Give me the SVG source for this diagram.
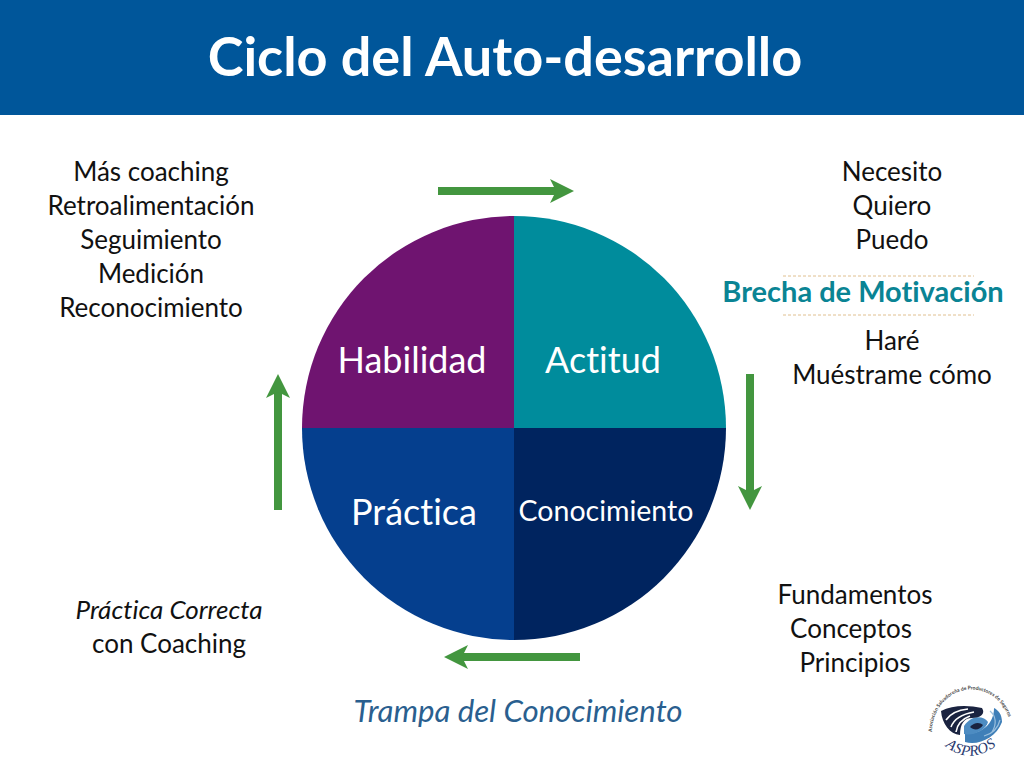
<svg xmlns="http://www.w3.org/2000/svg" width="1024" height="768" viewBox="0 0 1024 768">
<defs>
<marker id="ah" markerUnits="userSpaceOnUse" markerWidth="24" markerHeight="26" refX="10" refY="12" orient="auto"><path d="M0 0L24 12L0 24L6 12Z" fill="#43963f"/></marker>
<path id="arcLogo" d="M932 732A39 42 0 0 1 1011 732"/>
<path id="arcAspros" d="M945 746Q972 768 1004 740"/>
</defs>
<style>
text{font-family:"Lato","Noto Sans","Liberation Sans",sans-serif;font-variant-ligatures:none}
.t{font-size:26px;fill:#111;text-anchor:middle}
.q{font-size:36px;fill:#fff;text-anchor:middle}
.c{stroke:#43963f;stroke-width:8;fill:none;marker-end:url(#ah)}
.d{stroke:#e0c090;stroke-width:1;stroke-dasharray:3 2;fill:none}
</style>
<rect width="1024" height="768" fill="#fff"/>
<g id="header"><rect width="1024" height="115" fill="#00569a"/>
<text x="505" y="76" font-size="54" font-weight="700" fill="#fff" text-anchor="middle">Ciclo del Auto-desarrollo</text></g>
<g id="habilidad"><path d="M514 428V216A212 212 0 0 0 302 428Z" fill="#6f1470"/><text class="q" x="412" y="373">Habilidad</text></g>
<g id="actitud"><path d="M514 428V216A212 212 0 0 1 726 428Z" fill="#008c9c"/><text class="q" x="603" y="373">Actitud</text></g>
<g id="practica"><path d="M514 428H302A212 212 0 0 0 514 640Z" fill="#053f8e"/><text class="q" x="414" y="525">Práctica</text></g>
<g id="conocimiento"><path d="M514 428H726A212 212 0 0 1 514 640Z" fill="#00245f"/><text x="606" y="521" font-size="28.5" fill="#fff" text-anchor="middle">Conocimiento</text></g>
<g id="connectors">
<path class="c" d="M438 191H560"/>
<path class="c" d="M750 374V496"/>
<path class="c" d="M580 657H458"/>
<path class="c" d="M278 510V388"/>
</g>
<g id="top-left"><text class="t" x="151" y="181">Más coaching</text><text class="t" x="151" y="215">Retroalimentación</text><text class="t" x="151" y="249">Seguimiento</text><text class="t" x="151" y="283">Medición</text><text class="t" x="151" y="317">Reconocimiento</text></g>
<g id="top-right"><text class="t" x="892" y="181">Necesito</text><text class="t" x="892" y="215">Quiero</text><text class="t" x="892" y="249">Puedo</text>
<path class="d" d="M783 276H974M783 315H974"/>
<text x="863" y="302" font-size="29" font-weight="700" fill="#0a8494" text-anchor="middle">Brecha de Motivación</text>
<text class="t" x="892" y="350">Haré</text><text class="t" x="892" y="384">Muéstrame cómo</text></g>
<g id="bottom-right"><text class="t" x="855" y="604">Fundamentos</text><text class="t" x="851" y="638">Conceptos</text><text class="t" x="855" y="672">Principios</text></g>
<g id="bottom-left"><text class="t" x="169" y="619" font-style="italic">Práctica Correcta</text><text class="t" x="169" y="653">con Coaching</text></g>
<text x="518" y="722" font-size="31.2" font-style="italic" fill="#2a5f8f" text-anchor="middle">Trampa del Conocimiento</text>
<g id="logo">
<path d="M965 742C978 746 996 738 1002 722C1002 714 998 710 994 708C994 724 982 734 965 734Z" fill="#3f7fb8"/>
<path d="M964 726C972 714 984 716 988 722C986 730 974 736 964 734Z" fill="#4d8cc2"/>
<path d="M941 711C952 705 968 705 982 708C986 714 980 718 972 718C964 718 960 724 960 735C950 734 942 724 941 711Z" fill="#1a2340"/>
<path d="M946 720C950 714 958 710 968 709M951 727C954 719 962 714 974 712M956 732C957 725 962 719 970 716" stroke="#fff" stroke-width="1.6" fill="none"/>
<path d="M970 727C974 722 980 722 983 725C980 730 974 731 970 727Z" fill="#1a2340"/>
<path d="M990 711C996 716 997 724 992 732M984 736C992 734 998 728 1000 720" stroke="#9cc0de" stroke-width="1.2" fill="none"/>
<text font-size="5" font-weight="700" fill="#444"><textPath href="#arcLogo">Asociación Salvadoreña de Productores de Seguros</textPath></text>
<text font-size="15" style="font-family:'Liberation Serif',serif" font-style="italic" fill="#2a3a70" letter-spacing="0.5"><textPath href="#arcAspros">ASPROS</textPath></text>
</g>
</svg>
